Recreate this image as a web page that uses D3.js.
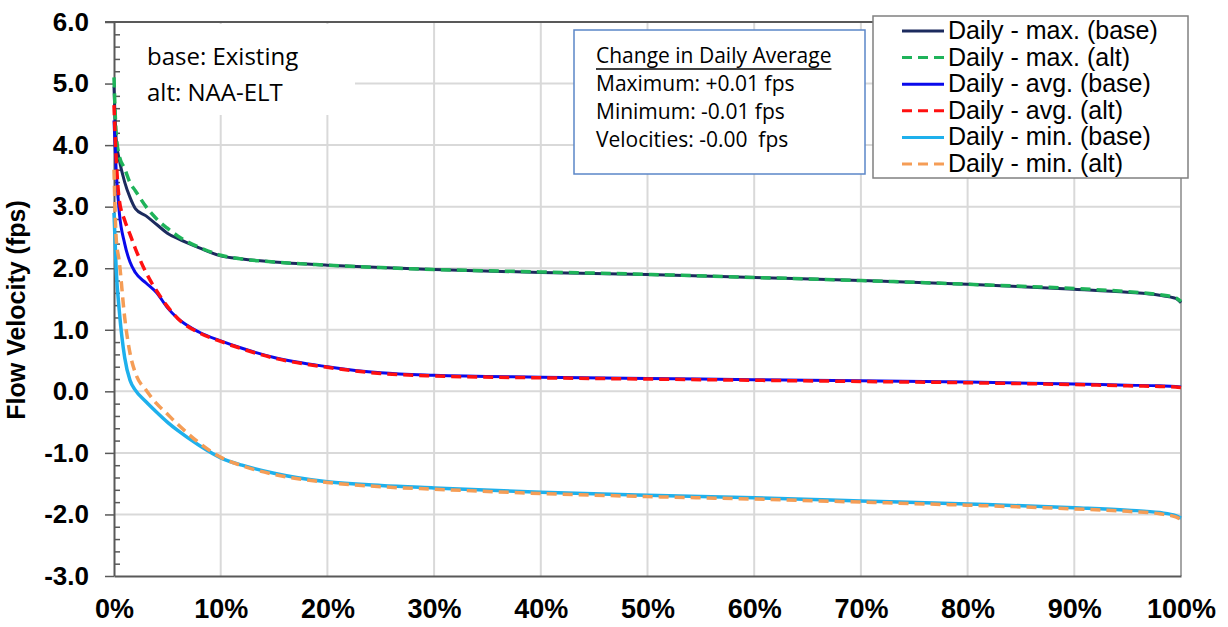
<!DOCTYPE html>
<html>
<head>
<meta charset="utf-8">
<script src="https://cdn.jsdelivr.net/npm/d3@7"></script>
<style>
  body { margin: 0; background: #fff; }
  text { font-family: "Liberation Sans", Arial, sans-serif; }
</style>
</head>
<body>
<div id="chart"></div>
<script>
// exceedance percent (x) shared by all six curves
var pct = [0, 0.2, 0.5, 1, 1.5, 2, 3, 4, 5, 6, 8, 10, 12, 15, 20, 25, 30, 40, 50, 60, 70, 80, 90, 95, 98, 99.5, 100];

// flow velocity (fps)
var maxBase = [4.95, 4.1, 3.76, 3.4, 3.15, 2.97, 2.85, 2.71, 2.57, 2.48, 2.33, 2.2, 2.15, 2.1, 2.05, 2.01, 1.98, 1.93, 1.9, 1.85, 1.8, 1.74, 1.66, 1.61, 1.56, 1.51, 1.44];
var maxAlt  = [5.1, 4.2, 3.82, 3.62, 3.39, 3.26, 3.0, 2.8, 2.65, 2.52, 2.34, 2.21, 2.15, 2.1, 2.05, 2.01, 1.98, 1.94, 1.9, 1.85, 1.8, 1.74, 1.67, 1.62, 1.57, 1.52, 1.46];
var avgBase = [4.4, 3.6, 2.9, 2.4, 2.1, 1.93, 1.76, 1.6, 1.36, 1.18, 0.96, 0.82, 0.7, 0.55, 0.4, 0.3, 0.26, 0.23, 0.21, 0.19, 0.17, 0.15, 0.12, 0.1, 0.09, 0.08, 0.07];
var avgAlt  = [4.65, 3.8, 3.1, 2.78, 2.55, 2.32, 1.93, 1.63, 1.38, 1.18, 0.95, 0.81, 0.69, 0.54, 0.39, 0.29, 0.25, 0.22, 0.2, 0.18, 0.16, 0.14, 0.11, 0.09, 0.08, 0.07, 0.06];
var minBase = [2.9, 2.0, 1.3, 0.55, 0.18, 0.02, -0.17, -0.34, -0.5, -0.64, -0.88, -1.08, -1.2, -1.33, -1.47, -1.53, -1.57, -1.64, -1.69, -1.73, -1.78, -1.83, -1.89, -1.93, -1.97, -2.02, -2.06];
var minAlt  = [3.6, 2.5, 2.1, 1.2, 0.62, 0.3, 0.02, -0.2, -0.37, -0.54, -0.84, -1.07, -1.21, -1.35, -1.48, -1.55, -1.59, -1.66, -1.71, -1.75, -1.8, -1.85, -1.91, -1.95, -1.99, -2.04, -2.08];

var seriesNames = ["Daily - max. (base)", "Daily - max. (alt)", "Daily - avg. (base)", "Daily - avg. (alt)", "Daily - min. (base)", "Daily - min. (alt)"];
var yTicks = [6, 5, 4, 3, 2, 1, 0, -1, -2, -3];
var xTicks = [0, 10, 20, 30, 40, 50, 60, 70, 80, 90, 100];
var noteLines = ["Maximum: +0.01 fps", "Minimum: -0.01 fps", "Velocities: -0.00  fps"];

var svgWidth = 1228;
var svgHeight = 627;

var margin = { top: 22, right: 47, bottom: 51, left: 114 };
var width = svgWidth - margin.left - margin.right;
var height = svgHeight - margin.top - margin.bottom;

var svg = d3.select("#chart")
  .append("svg")
  .attr("width", svgWidth)
  .attr("height", svgHeight);

var chartGroup = svg.append("g")
  .attr("transform", `translate(${margin.left}, ${margin.top})`);

var xScale = d3.scaleLinear().domain([0, 100]).range([0, width]);
var yScale = d3.scaleLinear().domain([-3, 6]).range([height, 0]);

// gridlines
chartGroup.selectAll(".hgrid")
  .data(yTicks.filter(d => d > -3 && d < 6))
  .enter().append("line")
  .attr("x1", 0).attr("x2", width)
  .attr("y1", d => yScale(d)).attr("y2", d => yScale(d))
  .attr("stroke", "#d9d9d9").attr("stroke-width", 2);

chartGroup.selectAll(".vgrid")
  .data(xTicks.filter(d => d > 0 && d < 100))
  .enter().append("line")
  .attr("x1", d => xScale(d)).attr("x2", d => xScale(d))
  .attr("y1", 0).attr("y2", height)
  .attr("stroke", "#d9d9d9").attr("stroke-width", 2);

// plot border (top + right)
chartGroup.append("line")
  .attr("x1", -9).attr("x2", width).attr("y1", 0).attr("y2", 0)
  .attr("stroke", "#595959").attr("stroke-width", 2);
chartGroup.append("line")
  .attr("x1", width).attr("x2", width).attr("y1", 0).attr("y2", height)
  .attr("stroke", "#a6a6a6").attr("stroke-width", 2);

// white label box top-left (hides gridlines)
chartGroup.append("rect")
  .attr("x", 2).attr("y", 2).attr("width", 239).attr("height", 91)
  .attr("fill", "#fff");

// note box
var noteBox = svg.append("g").attr("transform", "translate(574, 30)");
noteBox.append("rect")
  .attr("width", 291).attr("height", 144)
  .attr("fill", "#fff").attr("stroke", "#5b86c8").attr("stroke-width", 1.5);
var noteTitle = noteBox.append("text")
  .attr("x", 22).attr("y", 33)
  .style("font-family", "'Open Sans', sans-serif").style("font-size", "21px")
  .text("Change in Daily Average");
noteBox.append("line")
  .attr("x1", 22).attr("x2", 22 + noteTitle.node().getComputedTextLength())
  .attr("y1", 39).attr("y2", 39)
  .attr("stroke", "#000").attr("stroke-width", 1.5);
noteBox.selectAll(".note")
  .data(noteLines)
  .enter().append("text")
  .attr("x", 22)
  .attr("y", (d, i) => 61 + i * 28)
  .style("font-family", "'Open Sans', sans-serif").style("font-size", "21px")
  .style("white-space", "pre")
  .text(d => d);

// base / alt label
chartGroup.append("text")
  .attr("x", 33).attr("y", 43)
  .style("font-family", "'Open Sans', sans-serif").style("font-size", "24px")
  .text("base: Existing");
chartGroup.append("text")
  .attr("x", 33).attr("y", 79)
  .style("font-family", "'Open Sans', sans-serif").style("font-size", "24px")
  .text("alt: NAA-ELT");

// y axis, major ticks outside, minor inside
var leftAxis = d3.axisLeft(yScale)
  .tickValues(yTicks)
  .tickSize(9)
  .tickSizeOuter(0)
  .tickPadding(16)
  .tickFormat(d => d.toFixed(1));

var yAxis = chartGroup.append("g").call(leftAxis);
yAxis.select(".domain").attr("stroke", "#595959").attr("stroke-width", 2);
yAxis.selectAll(".tick line").attr("stroke", "#595959").attr("stroke-width", 1.5);
yAxis.selectAll("text")
  .style("font-size", "26px").style("font-weight", "bold").attr("fill", "#000");

var minorTicks = d3.range(-30, 61, 2).map(d => d / 10).filter(d => yTicks.indexOf(d) < 0);
var minorAxis = d3.axisLeft(yScale).tickValues(minorTicks).tickSize(-6).tickSizeOuter(0).tickFormat("");
var yMinor = chartGroup.append("g").call(minorAxis);
yMinor.select(".domain").remove();
yMinor.selectAll(".tick line").attr("stroke", "#595959").attr("stroke-width", 1.5);

// x axis
var bottomAxis = d3.axisBottom(xScale)
  .tickValues(xTicks)
  .tickSize(0)
  .tickPadding(23)
  .tickFormat(d => d + "%");

var xAxis = chartGroup.append("g")
  .attr("transform", `translate(0, ${height})`)
  .call(bottomAxis);
xAxis.select(".domain").attr("stroke", "#595959").attr("stroke-width", 2);
xAxis.selectAll("text")
  .style("font-size", "27px").style("font-weight", "bold").attr("fill", "#000");

// y axis title
svg.append("text")
  .attr("transform", "translate(25, 310) rotate(-90)")
  .attr("text-anchor", "middle")
  .style("font-size", "25px").style("font-weight", "bold")
  .text("Flow Velocity (fps)");

// curves
var curveData = [
  { name: seriesNames[0], values: maxBase, color: "#1c2b5e", dash: null, w: 3 },
  { name: seriesNames[1], values: maxAlt, color: "#1fb35a", dash: "10,6", w: 3.5 },
  { name: seriesNames[2], values: avgBase, color: "#0a0aeb", dash: null, w: 3 },
  { name: seriesNames[3], values: avgAlt, color: "#ff1010", dash: "10,6", w: 3.5 },
  { name: seriesNames[4], values: minBase, color: "#1eb0ec", dash: null, w: 3.5 },
  { name: seriesNames[5], values: minAlt, color: "#f59d56", dash: "10,6", w: 3.5 }
];

var line = d3.line()
  .x((d, i) => xScale(pct[i]))
  .y(d => yScale(d))
  .curve(d3.curveMonotoneX);

chartGroup.selectAll(".curve")
  .data(curveData)
  .enter().append("path")
  .attr("d", d => line(d.values))
  .attr("fill", "none")
  .attr("stroke", d => d.color)
  .attr("stroke-width", d => d.w)
  .attr("stroke-dasharray", d => d.dash);

// legend
var legend = svg.append("g").attr("transform", "translate(873, 16)");
legend.append("rect")
  .attr("width", 315).attr("height", 162)
  .attr("fill", "#fff").attr("stroke", "#808080").attr("stroke-width", 1.5);

var legendRows = legend.selectAll(".row")
  .data(curveData)
  .enter().append("g")
  .attr("transform", (d, i) => `translate(0, ${15 + i * 26.6})`);

legendRows.append("line")
  .attr("x1", 29).attr("x2", 71).attr("y1", 0).attr("y2", 0)
  .attr("stroke", d => d.color)
  .attr("stroke-width", 3)
  .attr("stroke-dasharray", d => d.dash);

legendRows.append("text")
  .attr("x", 75).attr("y", 8)
  .style("font-size", "25px")
  .text(d => d.name);
</script>
</body>
</html>
